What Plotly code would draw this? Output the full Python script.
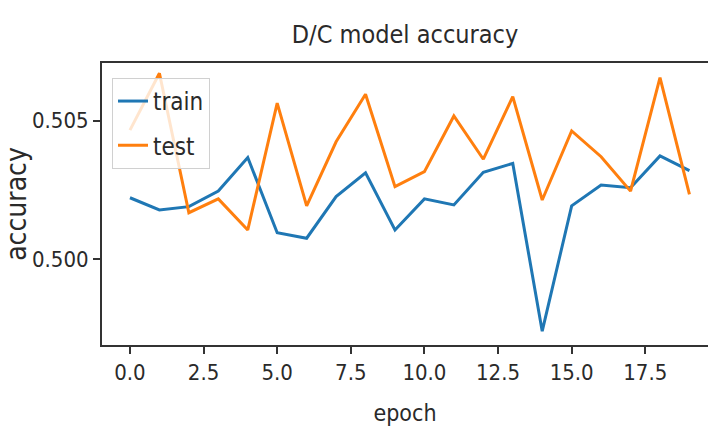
import plotly.graph_objects as go

epochs = list(range(20))
train_acc = [0.50222, 0.50178, 0.50190, 0.50246, 0.50367, 0.50096, 0.50076, 0.50226,
             0.50312, 0.50106, 0.50218, 0.50196, 0.50314, 0.50346, 0.49741, 0.50193,
             0.50268, 0.50258, 0.50373, 0.50320]
test_acc = [0.50466, 0.50671, 0.50168, 0.50218, 0.50106, 0.50563, 0.50193, 0.50424,
            0.50595, 0.50262, 0.50316, 0.50517, 0.50361, 0.50587, 0.50214, 0.50463,
            0.50370, 0.50246, 0.50655, 0.50234]
x_ticks = [0, 2.5, 5, 7.5, 10, 12.5, 15, 17.5]
y_ticks = [0.500, 0.505]

FONT = "DejaVu Sans Condensed, Liberation Sans Narrow, DejaVu Sans, sans-serif"
TXT = "#2a2a2a"

fig = go.Figure()
fig.add_trace(go.Scatter(x=epochs, y=train_acc, mode="lines", name="train", legendgroup="a",
                         line=dict(color="#1f77b4", width=3)))
fig.add_trace(go.Scatter(x=epochs, y=test_acc, mode="lines", name="test", legendgroup="b",
                         line=dict(color="#ff7f0e", width=3)))

fig.update_layout(
    width=708, height=430,
    margin=dict(l=102, r=0, t=63, b=85),
    paper_bgcolor="white", plot_bgcolor="white",
    font=dict(family=FONT, color=TXT, size=23),
    title=dict(text="D/C model accuracy", x=0.5, xref="paper", xanchor="center",
               y=1 - 34 / 430, yanchor="middle", font=dict(size=25, family=FONT, color=TXT)),
    showlegend=True,
    legend=dict(x=0.0165, y=0.947, xanchor="left", yanchor="top",
                bgcolor="rgba(255,255,255,0.8)", bordercolor="#d0d0d0", borderwidth=1,
                font=dict(size=24, family=FONT, color=TXT), tracegroupgap=10),
)
fig.update_xaxes(
    range=[-0.95, 19.63], tickvals=x_ticks, tickformat=".1f",
    showgrid=False, zeroline=False,
    showline=True, linecolor="#333333", linewidth=2, mirror=True,
    ticks="outside", ticklen=7, tickwidth=1.5, tickcolor="#333333",
    tickfont=dict(size=22, family=FONT, color=TXT),
    title=dict(text="epoch", font=dict(size=23, family=FONT, color=TXT), standoff=20),
)
fig.update_yaxes(
    range=[0.49691, 0.50708], tickvals=y_ticks, tickformat=".3f",
    showgrid=False, zeroline=False,
    showline=True, linecolor="#333333", linewidth=2,
    ticks="outside", ticklen=7, tickwidth=1.5, tickcolor="#333333",
    tickfont=dict(size=22, family=FONT, color=TXT),
    title=dict(text="accuracy", font=dict(size=28, family=FONT, color=TXT), standoff=6),
)

fig.write_html("out.html")
